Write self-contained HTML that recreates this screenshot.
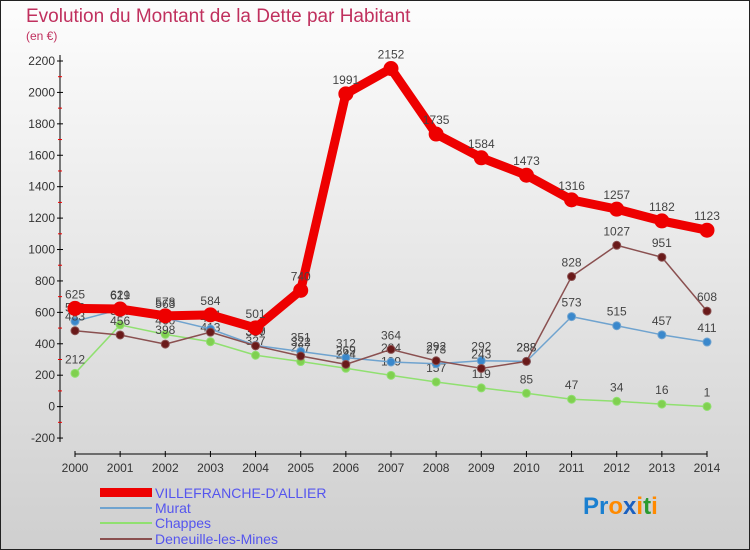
<!DOCTYPE html>
<html><head><meta charset="utf-8"><style>
body{margin:0}
svg{display:block;font-family:"Liberation Sans",sans-serif}
</style></head><body>
<svg id="c" width="750" height="550">
<defs><linearGradient id="bg" x1="0" y1="0" x2="0" y2="1"><stop offset="0" stop-color="#fdfdfd"/><stop offset="1" stop-color="#cfcfcf"/></linearGradient></defs>
<rect x="0.5" y="0.5" width="749" height="549" fill="url(#bg)" stroke="#222"/>
<text x="26" y="22" font-size="19" fill="#c0305e">Evolution du Montant de la Dette par Habitant</text>
<text x="26" y="40" font-size="12" fill="#c0305e">(en €)</text>
<g id="axes"></g><g id="series"></g>
<g>
<rect x="100" y="488" width="52" height="9" fill="#e00"/>
<text x="155" y="498" font-size="14" fill="#5555ee">VILLEFRANCHE-D'ALLIER</text>
<rect x="100" y="507" width="52" height="2" fill="#6fa3cf"/>
<text x="155" y="513" font-size="14" fill="#5555ee">Murat</text>
<rect x="100" y="522" width="52" height="2" fill="#90e070"/>
<text x="155" y="528" font-size="14" fill="#5555ee">Chappes</text>
<rect x="100" y="538" width="52" height="2" fill="#8a5050"/>
<text x="155" y="544" font-size="14" fill="#5555ee">Deneuille-les-Mines</text>
</g>
<text x="583" y="514" font-size="24" font-weight="bold"><tspan fill="#1a7fd0">Pr</tspan><tspan fill="#ff8a00">o</tspan><tspan fill="#1a60c0">x</tspan><tspan fill="#ff8a00">i</tspan><tspan fill="#2a9a30">t</tspan><tspan fill="#ff8a00">i</tspan></text>
</svg>
<script>
const years=[2000,2001,2002,2003,2004,2005,2006,2007,2008,2009,2010,2011,2012,2013,2014];
const villefranche=[625,621,578,584,501,740,1991,2152,1735,1584,1473,1316,1257,1182,1123];
const murat=[543,619,563,494,390,351,312,284,273,292,288,573,515,457,411];
const chappes=[212,520,460,413,327,287,244,199,157,119,85,47,34,16,1];
const deneuille=[483,456,398,474,387,322,269,364,292,243,288,828,1027,951,608];
const yTicks=[-200,0,200,400,600,800,1000,1200,1400,1600,1800,2000,2200];
const NS="http://www.w3.org/2000/svg";
const X=i=>75+i*(707-75)/(years.length-1);
const Y=v=>61+(2200-v)*0.1571;
function mk(t,a,p){const e=document.createElementNS(NS,t);for(const k in a)e.setAttribute(k,a[k]);p.appendChild(e);return e;}
const ax=document.getElementById('axes');
const yl=mk('line',{x1:60,y1:55,x2:60,y2:442,stroke:'#000'},ax);


yTicks.forEach((v,i)=>{
 mk('line',{x1:57,x2:63,y1:Y(v),y2:Y(v),stroke:'#000'},ax);
 if(i<yTicks.length-1)mk('line',{x1:58,x2:62,y1:Y(v+100),y2:Y(v+100),stroke:'#e00'},ax);
 const t=mk('text',{x:55,y:Y(v)+4,'font-size':12,fill:'#333','text-anchor':'end'},ax);t.textContent=v;
 
 
});
const xl=mk('line',{x1:75,y1:454,x2:707,y2:454,stroke:'#000'},ax);


years.forEach((y,i)=>{
 mk('line',{x1:X(i),x2:X(i),y1:451,y2:457,stroke:'#000'},ax);
 const t=mk('text',{x:X(i),y:472,'font-size':12,fill:'#333','text-anchor':'middle'},ax);t.textContent=y;
 
 
});
const sg=document.getElementById('series');
function series(d,name,col,dot,w,r){
 const g=mk('g',{},sg);
 
 
 const l=mk('polyline',{points:d.map((v,i)=>X(i)+','+Y(v)).join(' '),fill:'none',stroke:col,'stroke-width':w,'stroke-linejoin':'round'},g);
 
 
 d.forEach((v,i)=>{
  const c=mk('circle',{cx:X(i),cy:Y(v),r:r,fill:dot,stroke:col,'stroke-width':1},g);
  
  
  const t=mk('text',{x:X(i),y:Y(v)-10,'font-size':12,fill:'#444','text-anchor':'middle'},g);t.textContent=v;
  
  
 });
}
series(chappes,'chappes','#90e070','#80d050',1.5,4);
series(murat,'murat','#6fa3cf','#3a88cc',1.5,4);
series(deneuille,'deneuille','#8a5050','#6a1a1a',1.5,4);
series(villefranche,'villefranche','#ee0000','#ee0000',9,7);
</script>
</body></html>
